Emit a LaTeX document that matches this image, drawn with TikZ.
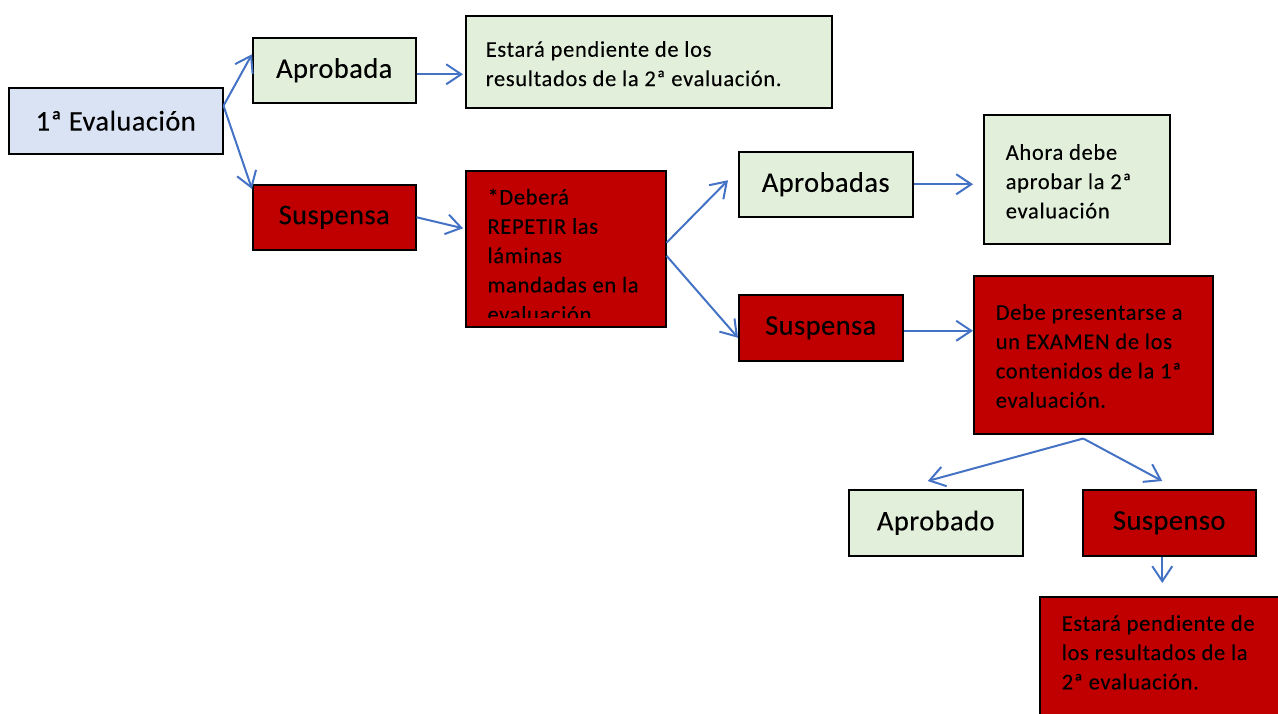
\documentclass[tikz,border=0pt]{standalone}
\usepackage{fontspec}
\setmainfont{Carlito}
\newfontfamily\fuentechica[LetterSpace=3.0,FakeBold=0.15]{Carlito}
\newfontfamily\fuentegrande[LetterSpace=1.5,FakeBold=0.15]{Carlito}
\usetikzlibrary{arrows.meta}
\definecolor{azulflecha}{RGB}{68,114,196}
\definecolor{verdeclaro}{RGB}{226,239,218}
\definecolor{azulclaro}{RGB}{218,227,243}
\definecolor{rojo}{RGB}{192,0,0}
\newcommand{\letragrande}{\fuentegrande\fontsize{28.5}{33}\selectfont}
\newcommand{\letrachica}{\fuentechica\fontsize{22.5}{29.3}\selectfont}
% alto, ancho, primera linea base, texto
\newcommand{\textocaja}[4]{\parbox[c][#1][t]{#2}{\letrachica\rule{0pt}{#3}#4}}
\begin{document}
\begin{tikzpicture}[x=1pt, y=-1pt,
	caja/.style={draw=black, line width=1.5pt, anchor=north west, inner sep=0pt},
	etiqueta/.style={caja, font=\letragrande},
	verde/.style={fill=verdeclaro},
	roja/.style={fill=rojo},
	flecha/.style={draw=azulflecha, line width=2pt, -{Straight Barb[length=15pt,width=20pt]}}]
	\useasboundingbox (0,0) rectangle (1278,713);
	\clip (0,0) rectangle (1278,713);
	\node[etiqueta, fill=azulclaro, minimum width=214pt, minimum height=66pt] (eval1) at (8,87) {1ª Evaluación};
	\node[etiqueta, verde, minimum width=163pt, minimum height=65pt] (aprob1) at (252,37) {Aprobada};
	\node[etiqueta, roja, minimum width=163pt, minimum height=65pt] (susp1) at (252,184) {Suspensa};
	\node[caja, verde, inner xsep=20pt] (nota1) at (465,15) {\textocaja{92pt}{326pt}{41pt}{Estará pendiente de los\\resultados de la 2ª evaluación.}};
	\node[caja, roja, minimum width=200pt, minimum height=156pt, path picture={
		\clip (path picture bounding box.north west) rectangle ([yshift=9pt]path picture bounding box.south east);
		\node[draw=none, fill=none, anchor=north west, inner xsep=21pt, inner ysep=0pt] (repetirtxt) at (path picture bounding box.north west) {\textocaja{156pt}{170pt}{33pt}{*Deberá\\REPETIR las\\láminas\\mandadas en la\\evaluación}};
	}] (repetir) at (465,170) {};
	\node[etiqueta, verde, minimum width=174pt, minimum height=65pt] (aprob2) at (738,151) {Aprobadas};
	\node[etiqueta, roja, minimum width=164pt, minimum height=66pt] (susp2) at (738,294) {Suspensa};
	\node[caja, verde, inner xsep=22pt] (nota2) at (983,114) {\textocaja{129pt}{142pt}{45pt}{Ahora debe\\aprobar la 2ª\\evaluación}};
	\node[caja, roja, inner xsep=22pt] (examen) at (973,275) {\textocaja{158pt}{195pt}{44pt}{Debe presentarse a\\un EXAMEN de los\\contenidos de la 1ª\\evaluación.}};
	\node[etiqueta, verde, minimum width=174pt, minimum height=66pt] (aprob3) at (848,489) {Aprobado};
	\node[etiqueta, roja, minimum width=173pt, minimum height=66pt] (susp3) at (1082,489) {Suspenso};
	\node[caja, roja, inner xsep=22pt] (nota3) at (1039,596) {\textocaja{140pt}{216pt}{34pt}{Estará pendiente de\\los resultados de la\\2ª evaluación.}};
	% flechas
	\draw[flecha] ([yshift=15pt]eval1.east) -- ([yshift=16pt]aprob1.west);
	\draw[flecha] ([yshift=15pt]eval1.east) -- ([yshift=-5pt]susp1.north west);
	\draw[flecha, shorten >=2pt] ([yshift=-4pt]aprob1.east) -- ([yshift=-4pt]aprob1.east -| nota1.west);
	\draw[flecha, shorten >=2pt] (susp1.east) -- ([yshift=20pt]repetir.west);
	\draw[flecha] ([yshift=6pt]repetir.east) -- ([xshift=-10pt,yshift=4pt]aprob2.west);
	\draw[flecha] ([yshift=-7pt]repetir.east) -- ([yshift=-10pt]susp2.west);
	\draw[flecha, shorten >=10pt] (aprob2.east) -- (aprob2.east -| nota2.west);
	\draw[flecha] ([yshift=-3pt]susp2.east) -- ([yshift=-3pt]susp2.east -| examen.west);
	\draw[flecha] ([xshift=-10pt,yshift=-4pt]examen.south) -- ([xshift=-8pt,yshift=8pt]aprob3.north);
	\draw[flecha] ([xshift=-10pt,yshift=-4pt]examen.south) -- ([xshift=-7pt,yshift=8pt]susp3.north);
	\draw[flecha] ([xshift=-7pt]susp3.south) -- ([xshift=-7pt,yshift=13pt]susp3.south |- nota3.north);
\end{tikzpicture}
\end{document}
